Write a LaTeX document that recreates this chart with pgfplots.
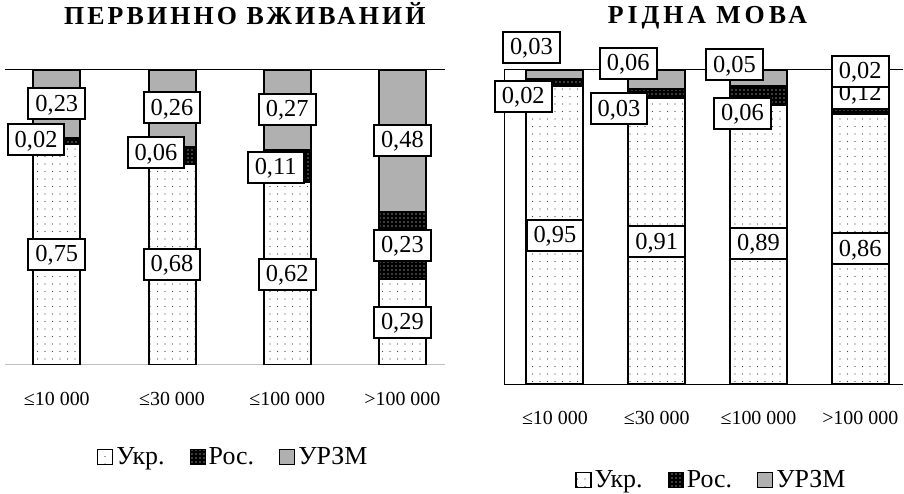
\documentclass[border=0pt]{standalone}
\usepackage{fontspec}
\setmainfont{Liberation Serif}
\usepackage{pgfplots}
\pgfplotsset{compat=1.18}
\usetikzlibrary{patterns,patterns.meta}

\tikzset{
  ukr/.style={fill=white, draw=black, line width=2bp, postaction={pattern={Dots[radius=0.55bp, distance=7.5bp]}, pattern color=black!75}},
  ros/.style={fill=black, draw=black, line width=2bp, postaction={pattern={Dots[radius=0.7bp, distance=4bp]}, pattern color=white}},
  urzm/.style={fill=black!40, draw=black, line width=2bp, postaction={pattern={Dots[radius=0.6bp, distance=2bp]}, pattern color=white}},
  titl/.style={font=\fontsize{26}{26}\selectfont\bfseries\addfontfeatures{LetterSpace=12}, anchor=center},
  titr/.style={font=\fontsize{26}{26}\selectfont\bfseries\addfontfeatures{LetterSpace=15}, anchor=center},
}
\pgfplotsset{
  sqlegend/.style={legend image code/.code={\draw[##1, line width=1.2bp] (0bp,-7.5bp) rectangle (15bp,7.5bp);}},
  lab/.style={draw=none, mark=none, nodes near coords, point meta=explicit symbolic,
    every node near coord/.append style={anchor=center, draw=black, text=black, line width=2bp, fill=white,
      inner xsep=7bp, inner ysep=0pt, minimum height=31bp, font=\fontsize{24.5}{24.5}\selectfont,
      text height=16.5bp, text depth=2bp}},
  common/.style={anchor=south west, scale only axis, ymin=0, ymax=1, enlargelimits=false},
  bars/.style={ybar stacked, xtick={0,1,2,3}, xticklabels={≤10 000,≤30 000,≤100 000,>100 000}, ytick=\empty,
    major tick length=0pt,
    xticklabel style={font=\fontsize{20}{20}\selectfont, anchor=center, yshift=-34bp, inner sep=0pt},
    legend style={draw=none, fill=none, legend columns=3, font=\fontsize{26}{26}\selectfont,
      nodes={inner xsep=3bp},
      /tikz/every even column/.append style={column sep=22bp}}},
}

\begin{document}
\begin{tikzpicture}
\path[use as bounding box] (0bp,0bp) rectangle (904bp,494bp);

% ---------- left chart: ПЕРВИННО ВЖИВАНИЙ ----------
\begin{axis}[common, bars, at={(5bp,129bp)}, width=440bp, height=295bp, xmin=-0.45, xmax=3.37,
  bar width=47bp,
  axis x line=bottom, axis y line=none, x axis line style={draw=black!25, line width=1bp, -},
  title={ПЕРВИННО ВЖИВАНИЙ}, title style={titl, at={(0.545,1.1695)}},
  legend style={at={(0.52,-0.312)}, anchor=center}]
\addplot[ukr, sqlegend] coordinates {(0,0.75) (1,0.68) (2,0.62) (3,0.29)};
\addplot[ros, sqlegend] coordinates {(0,0.02) (1,0.06) (2,0.11) (3,0.23)};
\addplot[urzm, sqlegend] coordinates {(0,0.23) (1,0.26) (2,0.27) (3,0.48)};
\legend{Укр., Рос., УРЗМ}
\end{axis}

\begin{axis}[common, at={(5bp,129bp)}, width=440bp, height=295bp, xmin=-0.45, xmax=3.37, hide axis, clip=false]
\addplot[black, line width=1bp, mark=none] coordinates {(-0.45,1) (3.37,1)};
\addplot[lab] table[row sep=\\, meta=l] {x y l\\ 0 0.375 0,75\\ 1 0.342 0,68\\ 2 0.308 0,62\\ 3 0.144 0,29\\};
\addplot[lab] table[row sep=\\, meta=l] {x y l\\ -0.18 0.763 0,02\\ 0.86 0.719 0,06\\ 1.9 0.671 0,11\\ 3 0.405 0,23\\};
\addplot[lab] table[row sep=\\, meta=l] {x y l\\ 0 0.885 0,23\\ 1 0.872 0,26\\ 2 0.866 0,27\\ 3 0.762 0,48\\};
\end{axis}

% ---------- right chart: РІДНА МОВА ----------
\begin{axis}[common, bars, at={(504bp,110bp)}, width=399bp, height=314bp, xmin=-0.5, xmax=3.42,
  bar width=57bp,
  axis lines*=left, axis line style={draw=black, line width=1bp, -},
  title={РІДНА МОВА}, title style={titr, at={(0.51,1.1465)}},
  legend style={at={(0.521,-0.306)}, anchor=center}]
\addplot[ukr, sqlegend] coordinates {(0,0.95) (1,0.91) (2,0.89) (3,0.86)};
\addplot[ros, sqlegend] coordinates {(0,0.02) (1,0.03) (2,0.06) (3,0.12)};
\addplot[urzm, sqlegend] coordinates {(0,0.03) (1,0.06) (2,0.05) (3,0.02)};
\legend{Укр., Рос., УРЗМ}
\end{axis}

\begin{axis}[common, at={(504bp,110bp)}, width=399bp, height=314bp, xmin=-0.5, xmax=3.42, hide axis, clip=false]
\addplot[black, line width=1bp, mark=none] coordinates {(-0.5,1) (3.42,1)};
\addplot[lab] table[row sep=\\, meta=l] {x y l\\ 0 0.473 0,95\\ 1 0.453 0,91\\ 2 0.447 0,89\\ 3 0.43 0,86\\};
\addplot[lab] table[row sep=\\, meta=l] {x y l\\ -0.31 0.917 0,02\\ 0.63 0.876 0,03\\ 1.843 0.863 0,06\\ 3 0.925 0,12\\};
\addplot[lab] table[row sep=\\, meta=l] {x y l\\ -0.231 1.072 0,03\\ 0.72 1.022 0,06\\ 1.764 1.016 0,05\\ 3 0.995 0,02\\};
\end{axis}
\end{tikzpicture}
\end{document}
